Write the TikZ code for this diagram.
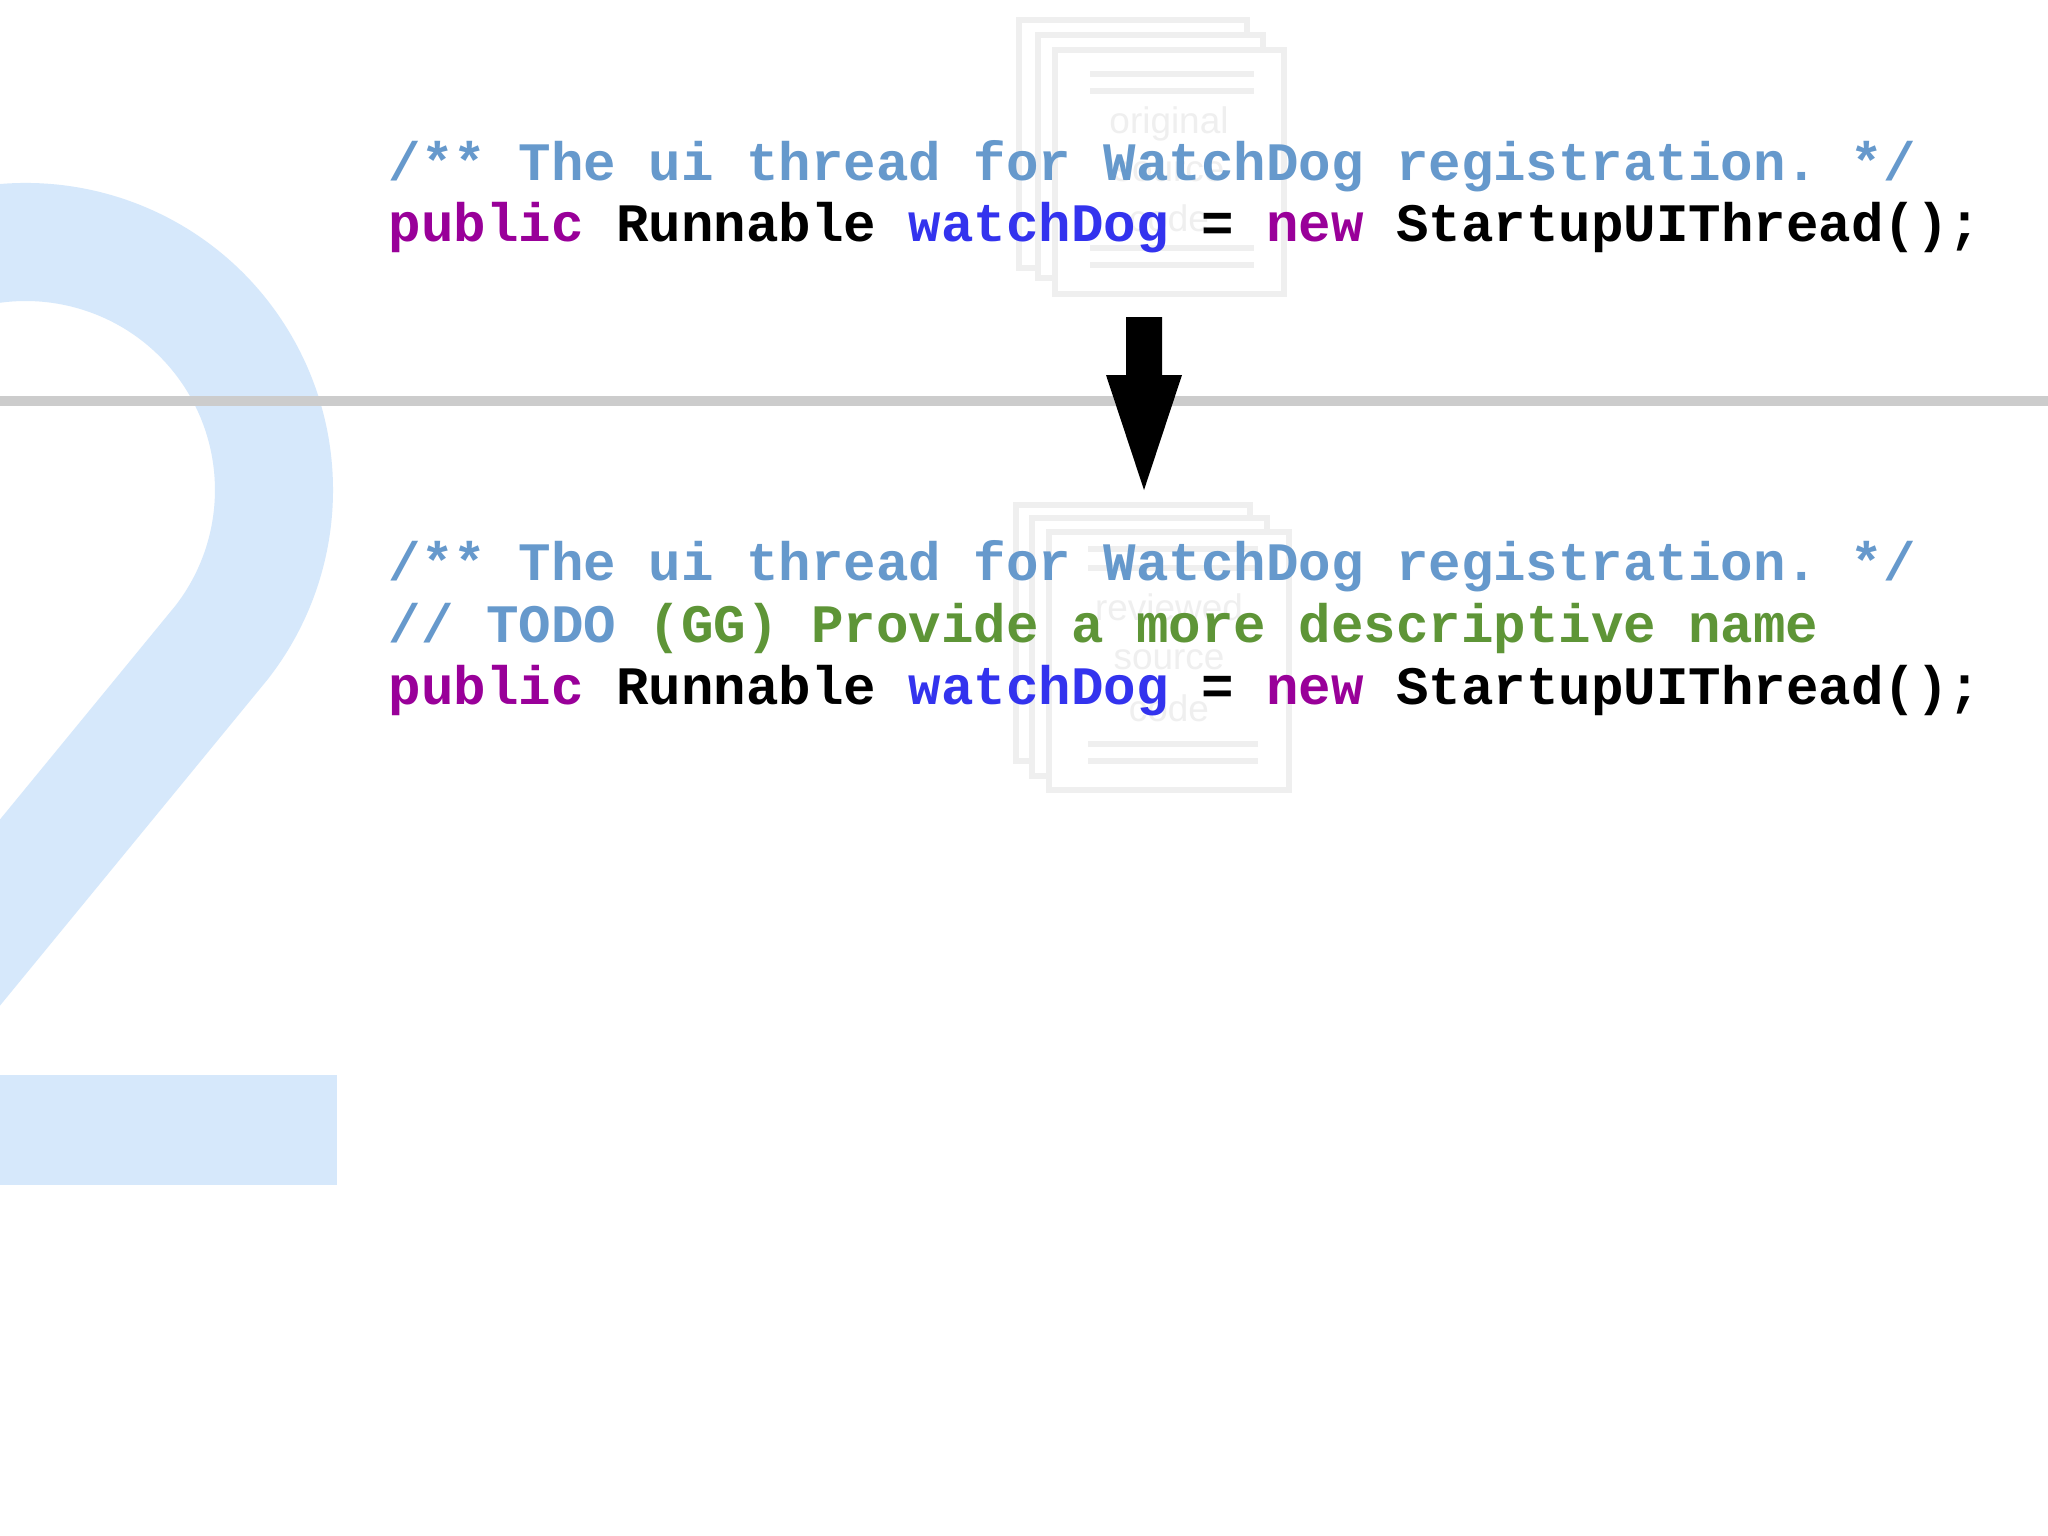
\documentclass[tikz,border=0pt]{standalone}
\usepackage{fontspec}
\setmainfont{Liberation Sans}
\newfontfamily\codefont{Liberation Mono}
\definecolor{cmt}{HTML}{6699CC}
\definecolor{kw}{HTML}{990099}
\definecolor{idf}{HTML}{3333EE}
\definecolor{todo}{HTML}{5E9537}
\definecolor{two}{HTML}{D6E8FB}
\definecolor{faint}{HTML}{EFEFEF}
\tikzset{
  code/.style={anchor=base west, inner sep=0pt, font=\codefont\bfseries\fontsize{15.4}{18}\selectfont},
  docpage/.style={draw=faint, line width=1.5pt, fill=white},
  docline/.style={draw=faint, line width=1.5pt},
  doctext/.style={text=faint, font=\fontsize{10.5}{12}\selectfont, inner sep=0pt}
}
\begin{document}
\frenchspacing
\begin{tikzpicture}[x=0.01cm,y=-0.01cm]
\useasboundingbox[fill=white] (0,0) rectangle (2048,1535);
% big faint "2"
\begin{scope}
\clip (0,0) rectangle (2048,1535);
\draw[two, line width=118*0.2845pt] (26,490) ++(-120:248) arc[start angle=-120, end angle=38, radius=248] -- (-80,1010);
\fill[two] (0,1075) rectangle (337,1185);
\end{scope}
% separator
\draw[line width=3pt, draw=black!20] (0,401) -- (2048,401);
% top document stack
\draw[docpage] (1019,20) rectangle (1247,268);
\draw[docpage] (1038,35) rectangle (1263,278);
\draw[docpage] (1055,50) rectangle (1284,294);
\draw[docline] (1090,74) -- (1254,74); \draw[docline] (1090,91) -- (1254,91);
\draw[docline] (1090,248) -- (1254,248); \draw[docline] (1090,265) -- (1254,265);
\node[doctext] (t1) at (1169,124) {original};
\node[doctext] (t2) at (1169,172) {source};
\node[doctext] (t3) at (1169,218) {code};
% bottom document stack
\draw[docpage] (1016,505) rectangle (1250,761);
\draw[docpage] (1032,518) rectangle (1267,776);
\draw[docpage] (1049,532) rectangle (1289,790);
\draw[docline] (1088,549) -- (1258,549); \draw[docline] (1088,568) -- (1258,568);
\draw[docline] (1088,744) -- (1258,744); \draw[docline] (1088,761) -- (1258,761);
\node[doctext] (b1) at (1169,607) {reviewed};
\node[doctext] (b2) at (1169,660) {source};
\node[doctext] (b3) at (1169,708) {code};
% arrow
\fill[black] (1126,317) -- (1162,317) -- (1162,375) -- (1182,375) -- (1144,490) -- (1106,375) -- (1126,375) -- cycle;
% code
\node[code] (c1) at (388,180) {\textcolor{cmt}{/** The ui thread for WatchDog registration. */}};
\node[code] (c2) at (388,241) {\textcolor{kw}{public} Runnable \textcolor{idf}{watchDog} = \textcolor{kw}{new} StartupUIThread();};
\node[code] (c3) at (388,580) {\textcolor{cmt}{/** The ui thread for WatchDog registration. */}};
\node[code] (c4) at (388,642) {\textcolor{cmt}{// TODO} \textcolor{todo}{(GG) Provide a more descriptive name}};
\node[code] (c5) at (388,704) {\textcolor{kw}{public} Runnable \textcolor{idf}{watchDog} = \textcolor{kw}{new} StartupUIThread();};
\end{tikzpicture}
\end{document}
